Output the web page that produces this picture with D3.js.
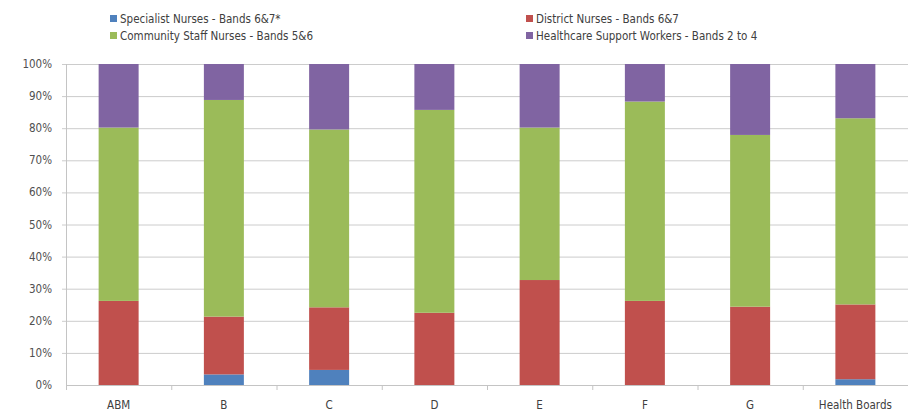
<!DOCTYPE html>
<html><head><meta charset="utf-8">
<script src="https://cdn.jsdelivr.net/npm/d3@7"></script>
<style>
body{margin:0;background:#fff;}
svg{display:block;font-family:"Liberation Sans Narrow","DejaVu Sans Condensed",sans-serif;}
</style></head><body>
<svg id="c" width="908" height="415"></svg>
<script>
const categories = ["ABM","B","C","D","E","F","G","Health Boards"];
const seriesNames = ["Specialist Nurses - Bands 6&7*","District Nurses - Bands 6&7","Community Staff Nurses - Bands 5&6","Healthcare Support Workers - Bands 2 to 4"];
const specialist = [0, 3.3, 4.7, 0, 0, 0, 0, 1.8];
const district   = [26.2, 18.0, 19.5, 22.5, 32.7, 26.2, 24.4, 23.3];
const community  = [54.0, 67.5, 55.4, 63.2, 47.5, 62.1, 53.5, 58.0];
const support    = [19.8, 11.2, 20.4, 14.3, 19.8, 11.7, 22.1, 16.9];
const yTicks = [0,10,20,30,40,50,60,70,80,90,100];
const colors = ["#4F81BD","#C0504D","#9BBB59","#8064A2"];

const svg = d3.select("#c");
const m = {left:66, right:908, top:64, bottom:385};
const x = d3.scaleBand().domain(categories).range([m.left, m.right]).paddingInner(0.62).paddingOuter(0.31);
const y = d3.scaleLinear().domain([0,100]).range([m.bottom, m.top]);

// gridlines
svg.append("g").selectAll("line").data(yTicks.filter(t=>t>0)).join("line")
  .attr("x1", m.left-4).attr("x2", m.right).attr("y1", d=>y(d)+0.5).attr("y2", d=>y(d)+0.5)
  .attr("stroke","#cccccc").attr("stroke-width",1);

// y axis line
svg.append("line").attr("x1",m.left+0.5).attr("x2",m.left+0.5).attr("y1",m.top).attr("y2",m.bottom)
  .attr("stroke","#c4c4c4");

// y labels
svg.append("g").selectAll("text").data(yTicks).join("text")
  .attr("x", 52).attr("y", d=>y(d)+4).attr("text-anchor","end")
  .attr("font-size",11.5).attr("fill","#505050").text(d=>d+"%");

// stacked bars
const rows = categories.map((c,i)=>({cat:c, s0:specialist[i], s1:district[i], s2:community[i], s3:support[i]}));
const stack = d3.stack().keys(["s0","s1","s2","s3"]);
const layers = stack(rows);
svg.append("g").selectAll("g").data(layers).join("g").attr("fill",(d,i)=>colors[i])
  .selectAll("rect").data(d=>d).join("rect")
  .attr("x", d=>x(d.data.cat)).attr("width", x.bandwidth())
  .attr("y", d=>y(d[1])).attr("height", d=>Math.max(0, y(d[0])-y(d[1])));

// x axis
const bandStep = x.step();
svg.append("line").attr("x1",m.left).attr("x2",m.right).attr("y1",m.bottom+0.5).attr("y2",m.bottom+0.5)
  .attr("stroke","#c4c4c4");
const tickXs = d3.range(categories.length+1).map(i=>m.left + i*bandStep);
svg.append("g").selectAll("line").data(tickXs).join("line")
  .attr("x1",d=>d+0.5).attr("x2",d=>d+0.5).attr("y1",m.bottom).attr("y2",m.bottom+5).attr("stroke","#c4c4c4");
svg.append("g").selectAll("text").data(categories).join("text")
  .attr("x", d=>x(d)+x.bandwidth()/2).attr("y", 409).attr("text-anchor","middle")
  .attr("font-size",11.5).attr("fill","#404040").text(d=>d);

// legend
const legPos = [[110,19],[526,19],[110,36],[526,36]];
const lg = svg.append("g").selectAll("g").data(seriesNames).join("g")
  .attr("transform",(d,i)=>`translate(${legPos[i][0]},${legPos[i][1]})`);
lg.append("rect").attr("x",0).attr("y",-4).attr("width",7).attr("height",7).attr("fill",(d,i)=>colors[i]);
lg.append("text").attr("x",10).attr("y",4).attr("font-size",11.5).attr("fill","#404040").text(d=>d);
</script></body></html>
